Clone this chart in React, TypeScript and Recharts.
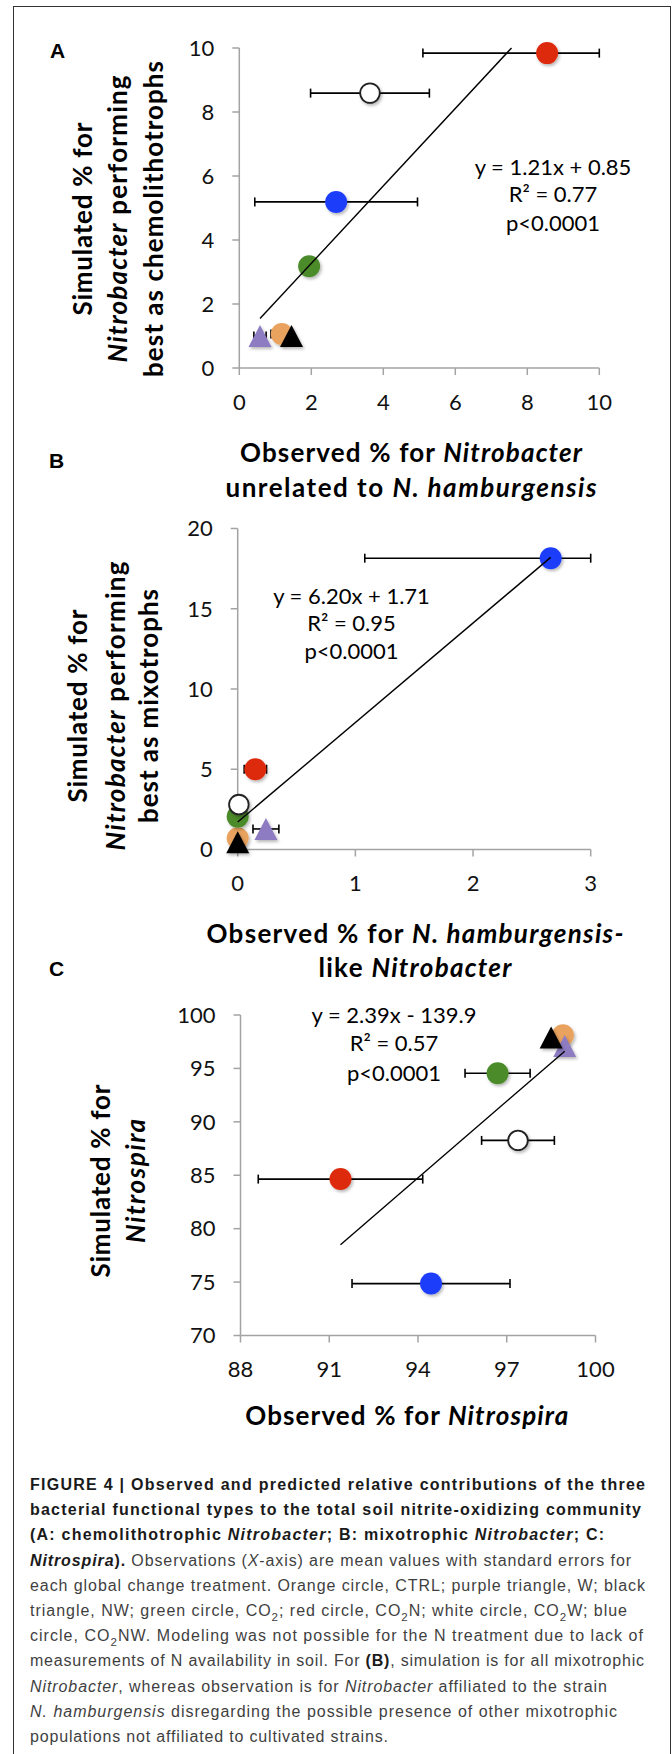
import React from 'react';
import { ScatterChart, Scatter, XAxis, YAxis, ErrorBar } from 'recharts';

if (typeof document !== 'undefined') document.body.style.margin = '0';

// ---------- data ----------
const treatments = ['CTRL', 'W', 'NW', 'CO2', 'CO2N', 'CO2W', 'CO2NW'];

// Panel A: chemolithotrophic Nitrobacter
const obsA = [1.18, 0.575, 1.45, 1.94, 8.55, 3.63, 2.69];
const simA = [1.06, 1.0, 1.0, 3.18, 9.84, 8.59, 5.19];
const errA = [0.3, 0.17, 0, 0.15, 3.45, 1.65, 2.26];
const fitA = [1.21, 0.85];
const eqA = ['y = 1.21x + 0.85', 'R² = 0.77', 'p<0.0001'];
const xTicksA = [0, 2, 4, 6, 8, 10];
const yTicksA = [0, 2, 4, 6, 8, 10];

// Panel B: mixotrophic Nitrobacter
const obsB = [0, 0.24, 0, 0, 0.15, 0.01, 2.66];
const simB = [0.7, 1.28, 0.45, 2.05, 5.0, 2.8, 18.15];
const errB = [0, 0.11, 0, 0, 0.095, 0, 1.58];
const fitB = [6.2, 1.71];
const eqB = ['y = 6.20x + 1.71', 'R² = 0.95', 'p<0.0001'];
const xTicksB = [0, 1, 2, 3];
const yTicksB = [0, 5, 10, 15, 20];

// Panel C: Nitrospira
const obsC = [98.9, 98.96, 98.5, 96.69, 91.38, 97.38, 94.44];
const simC = [98.1, 97.1, 97.9, 94.55, 84.64, 88.26, 74.86];
const errC = [0, 0, 0, 1.1, 2.78, 1.23, 2.67];
const fitC = [2.39, -139.9];
const eqC = ['y = 2.39x - 139.9', 'R² = 0.57', 'p<0.0001'];
const xTicksC = [88, 91, 94, 97, 100];
const yTicksC = [70, 75, 80, 85, 90, 95, 100];

// ---------- styles ----------
const markerStyle = [
  { shape: 'circle', fill: '#E9A35E' },
  { shape: 'triangle', fill: '#8E7CC3' },
  { shape: 'triangle', fill: '#000000' },
  { shape: 'circle', fill: '#4B8B2C' },
  { shape: 'circle', fill: '#DD2B0C' },
  { shape: 'circle', fill: '#FFFFFF', stroke: '#222' },
  { shape: 'circle', fill: '#1F3DFA' },
];

const AXIS = '#a3a3a3';
const TICKFONT = { fill: '#111', fontSize: 22, fontFamily: 'Lato' };

const makeShape = (st: any) => (props: any) => {
  const { cx, cy } = props;
  if (cx == null || cy == null) return <g />;
  if (st.shape === 'circle') {
    return (
      <circle
        cx={cx}
        cy={cy}
        r={st.stroke ? 9.8 : 11}
        fill={st.fill}
        stroke={st.stroke || 'none'}
        strokeWidth={1.8}
        filter="url(#mshadow)"
      />
    );
  }
  const w = 23;
  const h = 22;
  return (
    <polygon
      points={`${cx},${cy - h / 2} ${cx + w / 2},${cy + h / 2} ${cx - w / 2},${cy + h / 2}`}
      fill={st.fill}
      filter="url(#mshadow)"
    />
  );
};

const noShape = () => <g />;

function Panel(p: any) {
  const { top, height, margin, xDomain, yDomain, xTicks, yTicks, obs, sim, err, fit } = p;
  const xMin = Math.min(...obs);
  let xMax = Math.max(...obs);
  if (fit[0] * xMax + fit[1] > yDomain[1]) xMax = (yDomain[1] - fit[1]) / fit[0];
  const trend = [
    { x: xMin, y: fit[0] * xMin + fit[1] },
    { x: xMax, y: fit[0] * xMax + fit[1] },
  ];
  return (
    <div style={{ position: 'absolute', left: 0, top }}>
      <ScatterChart width={672} height={height} margin={margin}>
        <XAxis
          type="number"
          dataKey="x"
          domain={xDomain}
          ticks={xTicks}
          interval={0}
          height={30}
          axisLine={{ stroke: AXIS, strokeWidth: 1.5 }}
          tickLine={{ stroke: AXIS, strokeWidth: 1.5 }}
          tickSize={7}
          tickMargin={19}
          tick={TICKFONT}
        />
        <YAxis
          type="number"
          dataKey="y"
          domain={yDomain}
          ticks={yTicks}
          interval={0}
          width={60}
          axisLine={{ stroke: AXIS, strokeWidth: 1.5 }}
          tickLine={{ stroke: AXIS, strokeWidth: 1.5 }}
          tickSize={7}
          tickMargin={18}
          tick={TICKFONT}
        />
        {treatments.map((t, i) => (
          <Scatter
            key={t}
            name={t}
            data={[
              {
                x: obs[i],
                y: sim[i],
                ex: [Math.min(err[i], obs[i] - xDomain[0]), Math.min(err[i], xDomain[1] - obs[i])],
              },
            ]}
            shape={makeShape(markerStyle[i])}
            isAnimationActive={false}
          >
            {err[i] > 0 ? (
              <ErrorBar dataKey="ex" direction="x" width={4.5} stroke="#000" strokeWidth={1.6} />
            ) : null}
          </Scatter>
        ))}
        <Scatter
          name="trend"
          data={trend}
          line={{ stroke: '#000', strokeWidth: 1.4 }}
          shape={noShape}
          isAnimationActive={false}
        />
      </ScatterChart>
    </div>
  );
}

// ---------- text helpers ----------
type Seg = { t: string; i?: boolean; b?: boolean; sub?: boolean };

function TextLine(props: any) {
  const {
    x, y, segs, size = 26, weight = 700, len, rot = false, anchor = 'middle',
    family = 'Lato', fill = '#000', baseline = 'central', regFill,
  } = props;
  const children: any[] = [];
  let shifted = false;
  segs.forEach((s: Seg, k: number) => {
    let dy: number | undefined;
    if (s.sub && !shifted) { dy = size * 0.3; shifted = true; }
    else if (!s.sub && shifted) { dy = -size * 0.3; shifted = false; }
    children.push(
      <tspan
        key={k}
        dy={dy}
        fontStyle={s.i ? 'italic' : 'normal'}
        fontWeight={s.b === undefined ? weight : s.b ? 700 : 400}
        fill={s.b === false && regFill ? regFill : fill}
        fontSize={s.sub ? size * 0.72 : size}
      >
        {s.t}
      </tspan>,
    );
  });
  const common: any = {
    fontFamily: family,
    fontSize: size,
    textAnchor: anchor,
    dominantBaseline: baseline,
  };
  if (len) { common.textLength = len; common.lengthAdjust = 'spacing'; }
  if (rot) {
    return (
      <text transform={`translate(${x},${y}) rotate(-90)`} x={0} y={0} {...common}>
        {children}
      </text>
    );
  }
  return (
    <text x={x} y={y} {...common}>
      {children}
    </text>
  );
}

const N = (t: string): Seg => ({ t });
const I = (t: string): Seg => ({ t, i: true });

function Overlay() {
  const eq = (lines: string[], x: number, ys: number[]) =>
    lines.map((l, k) => (
      <TextLine key={l + k} x={x} y={ys[k]} segs={[N(l)]} size={22} weight={400} />
    ));

  const cap = (segs: Seg[], k: number, len?: number) => (
    <TextLine
      key={'cap' + k}
      x={30}
      y={1490 + k * 25.2}
      segs={segs}
      size={16}
      weight={400}
      anchor="start"
      family="'Liberation Sans', Arial, sans-serif"
      fill="#1a1a1a"
      regFill="#3f3f3f"
      baseline="alphabetic"
      len={len}
    />
  );
  const B = (t: string, i = false): Seg => ({ t, b: true, i });
  const R = (t: string, i = false): Seg => ({ t, b: false, i });
  const S = (t: string): Seg => ({ t, b: false, sub: true });

  return (
    <svg
      width={672}
      height={1754}
      style={{ position: 'absolute', left: 0, top: 0, pointerEvents: 'none' }}
    >
      {/* panel letters */}
      <TextLine x={50} y={50} segs={[N('A')]} size={21} anchor="start" family="'Liberation Sans', Arial" />
      <TextLine x={49} y={460} segs={[N('B')]} size={21} anchor="start" family="'Liberation Sans', Arial" />
      <TextLine x={49} y={967.5} segs={[N('C')]} size={21} anchor="start" family="'Liberation Sans', Arial" />

      {/* Panel A titles */}
      <TextLine x={81.7} y={219} rot segs={[N('Simulated % for')]} len={193} />
      <TextLine x={116.7} y={219} rot segs={[I('Nitrobacter'), N(' performing')]} len={287} />
      <TextLine x={153.3} y={219} rot segs={[N('best as chemolithotrophs')]} len={316} />
      <TextLine x={411} y={451.7} segs={[N('Observed % for '), I('Nitrobacter')]} len={342} />
      <TextLine x={411} y={486.7} segs={[N('unrelated to '), I('N. hamburgensis')]} len={371} />
      {eq(eqA, 553, [165.7, 193.3, 221.7])}

      {/* Panel B titles */}
      <TextLine x={76.7} y={706} rot segs={[N('Simulated % for')]} len={193} />
      <TextLine x={115} y={706} rot segs={[I('Nitrobacter'), N(' performing')]} len={289} />
      <TextLine x={148.3} y={706} rot segs={[N('best as mixotrophs')]} len={234} />
      <TextLine x={415} y={933.3} segs={[N('Observed % for '), I('N. hamburgensis-')]} len={417} />
      <TextLine x={415} y={966.7} segs={[N('like '), I('Nitrobacter')]} len={193} />
      {eq(eqB, 351.5, [595, 621.7, 650])}

      {/* Panel C titles */}
      <TextLine x={100} y={1181} rot segs={[N('Simulated % for')]} len={193} />
      <TextLine x={135} y={1181} rot segs={[I('Nitrospira')]} len={124} />
      <TextLine x={406.7} y={1415} segs={[N('Observed % for '), I('Nitrospira')]} len={323} />
      {eq(eqC, 394, [1014.3, 1041.7, 1071.7])}

      {/* caption */}
      {cap([B('FIGURE 4 | Observed and predicted relative contributions of the three')], 0, 615)}
      {cap([B('bacterial functional types to the total soil nitrite-oxidizing community')], 1, 611)}
      {cap([B('(A: chemolithotrophic '), B('Nitrobacter', true), B('; B: mixotrophic '), B('Nitrobacter', true), B('; C:')], 2, 574)}
      {cap([B('Nitrospira', true), B(').'), R(' Observations ('), R('X', true), R('-axis) are mean values with standard errors for')], 3, 601)}
      {cap([R('each global change treatment. Orange circle, CTRL; purple triangle, W; black')], 4, 615)}
      {cap([R('triangle, NW; green circle, CO'), S('2'), R('; red circle, CO'), S('2'), R('N; white circle, CO'), S('2'), R('W; blue')], 5, 597)}
      {cap([R('circle, CO'), S('2'), R('NW. Modeling was not possible for the N treatment due to lack of')], 6, 613)}
      {cap([R('measurements of N availability in soil. For '), B('(B)'), R(', simulation is for all mixotrophic')], 7, 614)}
      {cap([R('Nitrobacter', true), R(', whereas observation is for '), R('Nitrobacter', true), R(' affiliated to the strain')], 8, 577)}
      {cap([R('N. hamburgensis', true), R(' disregarding the possible presence of other mixotrophic')], 9, 587)}
      {cap([R('populations not affiliated to cultivated strains.')], 10, 358)}
    </svg>
  );
}

export default function App() {
  return (
    <div style={{ position: 'relative', width: 672, height: 1754, background: '#fff', overflow: 'hidden' }}>
      <svg width={0} height={0} style={{ position: 'absolute' }}>
        <defs>
          <filter id="mshadow" x="-60%" y="-60%" width="220%" height="220%">
            <feDropShadow dx="1.5" dy="2" stdDeviation="1.6" floodColor="#000" floodOpacity="0.28" />
          </filter>
        </defs>
      </svg>
      {/* frame */}
      <div
        style={{
          position: 'absolute',
          left: 13,
          top: 6,
          width: 656,
          height: 1770,
          border: '1.5px solid #333',
        }}
      />
      <Panel
        top={0}
        height={430}
        margin={{ top: 48, right: 72.7, bottom: 32, left: 179.3 }}
        xDomain={[0, 10]}
        yDomain={[0, 10]}
        xTicks={xTicksA}
        yTicks={yTicksA}
        obs={obsA}
        sim={simA}
        err={errA}
        fit={fitA}
      />
      <Panel
        top={460}
        height={460}
        margin={{ top: 68.5, right: 81.3, bottom: 40.5, left: 177.7 }}
        xDomain={[0, 3]}
        yDomain={[0, 20]}
        xTicks={xTicksB}
        yTicks={yTicksB}
        obs={obsB}
        sim={simB}
        err={errB}
        fit={fitB}
      />
      <Panel
        top={960}
        height={440}
        margin={{ top: 55, right: 76.5, bottom: 34.5, left: 180.5 }}
        xDomain={[88, 100]}
        yDomain={[70, 100]}
        xTicks={xTicksC}
        yTicks={yTicksC}
        obs={obsC}
        sim={simC}
        err={errC}
        fit={fitC}
      />
      <Overlay />
    </div>
  );
}
